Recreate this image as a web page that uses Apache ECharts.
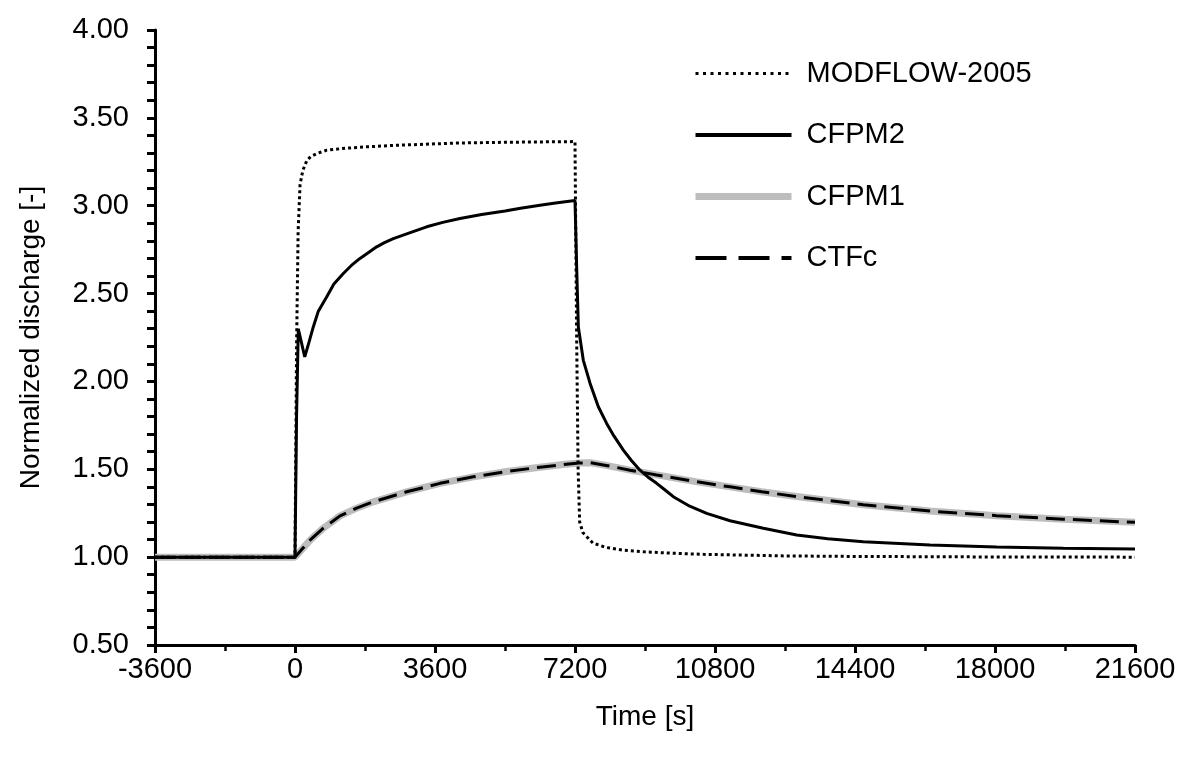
<!DOCTYPE html>
<html>
<head>
<meta charset="utf-8">
<script src="https://cdn.jsdelivr.net/npm/echarts@6/dist/echarts.min.js"></script>
<style>
html,body{margin:0;padding:0;background:#fff;}
#chart{width:1186px;height:763px;}
</style>
</head>
<body>
<div id="chart"></div>
<script>
// Time [s], normalized discharge [-]
const modflowT = [-3600, 0, 40, 80, 130, 200, 300, 400, 600, 820, 1200, 1670, 2500, 3600, 4240, 5400, 6300, 7200, 7240, 7280, 7320, 7400, 7660, 8000, 8430, 9000, 9720, 10500, 11440, 12600, 14400, 18000, 21600];
const modflowV = [1.0, 1.0, 2.2, 2.85, 3.12, 3.2, 3.255, 3.28, 3.30, 3.316, 3.325, 3.333, 3.343, 3.352, 3.357, 3.361, 3.363, 3.365, 2.3, 1.5, 1.2, 1.14, 1.08, 1.055, 1.04, 1.03, 1.022, 1.016, 1.012, 1.007, 1.004, 1.001, 1.0];

const cfpm2T = [-3600, 0, 40, 85, 110, 250, 330, 470, 600, 813, 1000, 1242, 1450, 1671, 1900, 2100, 2300, 2528, 3000, 3386, 3800, 4243, 4800, 5400, 5800, 6300, 6700, 7200, 7243, 7286, 7414, 7586, 7800, 8014, 8200, 8443, 8650, 8871, 9080, 9300, 9500, 9728, 10150, 10586, 11186, 12043, 12900, 13700, 14614, 16329, 18043, 19757, 21600];
const cfpm2V = [1.0, 1.0, 1.8, 2.30, 2.29, 2.14, 2.20, 2.31, 2.40, 2.48, 2.555, 2.614, 2.66, 2.70, 2.735, 2.766, 2.79, 2.813, 2.85, 2.88, 2.905, 2.927, 2.95, 2.97, 2.985, 3.003, 3.015, 3.03, 2.65, 2.31, 2.12, 1.99, 1.856, 1.761, 1.69, 1.609, 1.55, 1.495, 1.455, 1.42, 1.385, 1.344, 1.29, 1.249, 1.207, 1.164, 1.126, 1.105, 1.088, 1.069, 1.058, 1.05, 1.046];

const cfpm1T = [-3600, 0, 200, 400, 700, 1157, 1600, 2014, 2871, 3729, 4586, 5443, 6300, 6900, 7300, 7600, 8000, 8614, 9300, 10300, 11186, 12000, 12900, 14614, 16329, 18043, 19757, 21600];
const cfpm1V = [1.0, 1.0, 1.05, 1.10, 1.16, 1.235, 1.28, 1.315, 1.372, 1.42, 1.457, 1.487, 1.512, 1.527, 1.536, 1.537, 1.522, 1.495, 1.468, 1.43, 1.40, 1.372, 1.345, 1.298, 1.262, 1.236, 1.216, 1.198];

const ctfcT = [-3600, 0, 200, 400, 700, 1157, 1600, 2014, 2871, 3729, 4586, 5443, 6300, 6900, 7300, 7600, 8000, 8614, 9300, 10300, 11186, 12000, 12900, 14614, 16329, 18043, 19757, 21600];
const ctfcV = [1.0, 1.0, 1.05, 1.10, 1.16, 1.235, 1.28, 1.315, 1.372, 1.42, 1.457, 1.487, 1.512, 1.527, 1.536, 1.537, 1.522, 1.495, 1.468, 1.43, 1.40, 1.372, 1.345, 1.298, 1.262, 1.236, 1.216, 1.198];

const seriesNames = ['MODFLOW-2005', 'CFPM2', 'CFPM1', 'CTFc'];

function pairs(t, v) { return t.map((x, i) => [x, v[i]]); }

const FONT = 'Liberation Sans, Arial, sans-serif';
const chart = echarts.init(document.getElementById('chart'), null, {renderer: 'canvas'});
chart.setOption({
  backgroundColor: '#fff',
  animation: false,
  grid: {left: 155, right: 51, top: 30, bottom: 118, containLabel: false},
  legend: {
    orient: 'vertical',
    left: 692,
    top: 59,
    padding: 0,
    itemWidth: 96,
    itemHeight: 30,
    itemGap: 32.5,
    itemStyle: {opacity: 0},
    textStyle: {fontFamily: FONT, fontSize: 29, color: '#000', padding: [0, 0, 0, 10]},
    data: [
      {name: seriesNames[0], lineStyle: {color: '#000', width: 3, type: [3, 4.5]}},
      {name: seriesNames[1], lineStyle: {color: '#000', width: 4, type: 'solid'}},
      {name: seriesNames[2], lineStyle: {color: '#bdbdbd', width: 7, type: 'solid'}},
      {name: seriesNames[3], lineStyle: {color: '#000', width: 4, type: [31, 12]}}
    ]
  },
  xAxis: {
    type: 'value',
    min: -3600, max: 21600, interval: 3600,
    name: 'Time [s]',
    nameLocation: 'middle',
    nameGap: 58,
    nameTextStyle: {fontFamily: FONT, fontSize: 28, color: '#000'},
    axisLine: {onZero: false, lineStyle: {color: '#000', width: 3}},
    axisTick: {show: true, inside: false, length: 8, lineStyle: {color: '#000', width: 3}},
    minorTick: {show: true, splitNumber: 2, length: 6, lineStyle: {color: '#000', width: 2.5}},
    axisLabel: {fontFamily: FONT, fontSize: 29, color: '#000', margin: 10, formatter: v => String(v)},
    splitLine: {show: false},
    minorSplitLine: {show: false}
  },
  yAxis: {
    type: 'value',
    min: 0.5, max: 4.0, interval: 0.5,
    name: 'Normalized discharge [-]',
    nameLocation: 'middle',
    nameGap: 110,
    nameTextStyle: {fontFamily: FONT, fontSize: 28, color: '#000'},
    axisLine: {show: true, onZero: false, lineStyle: {color: '#000', width: 3}},
    axisTick: {show: true, inside: false, length: 8, lineStyle: {color: '#000', width: 3}},
    minorTick: {show: true, splitNumber: 5, length: 8, lineStyle: {color: '#000', width: 3}},
    axisLabel: {fontFamily: FONT, fontSize: 29, color: '#000', margin: 26, formatter: v => v.toFixed(2)},
    splitLine: {show: false},
    minorSplitLine: {show: false}
  },
  series: [
    {
      name: seriesNames[0], type: 'line', symbol: 'none', smooth: false,
      data: pairs(modflowT, modflowV),
      lineStyle: {color: '#000', width: 3, type: [3, 3]},
      itemStyle: {color: '#000'}, z: 3
    },
    {
      name: seriesNames[1], type: 'line', symbol: 'none', smooth: false,
      data: pairs(cfpm2T, cfpm2V),
      lineStyle: {color: '#000', width: 3, type: 'solid'},
      itemStyle: {color: '#000'}, z: 4
    },
    {
      name: seriesNames[2], type: 'line', symbol: 'none', smooth: false,
      data: pairs(cfpm1T, cfpm1V),
      lineStyle: {color: '#bdbdbd', width: 7, type: 'solid'},
      itemStyle: {color: '#bdbdbd'}, z: 2
    },
    {
      name: seriesNames[3], type: 'line', symbol: 'none', smooth: false,
      data: pairs(ctfcT, ctfcV),
      lineStyle: {color: '#000', width: 3, type: [19, 8]},
      itemStyle: {color: '#000'}, z: 5
    }
  ]
});
</script>
</body>
</html>
